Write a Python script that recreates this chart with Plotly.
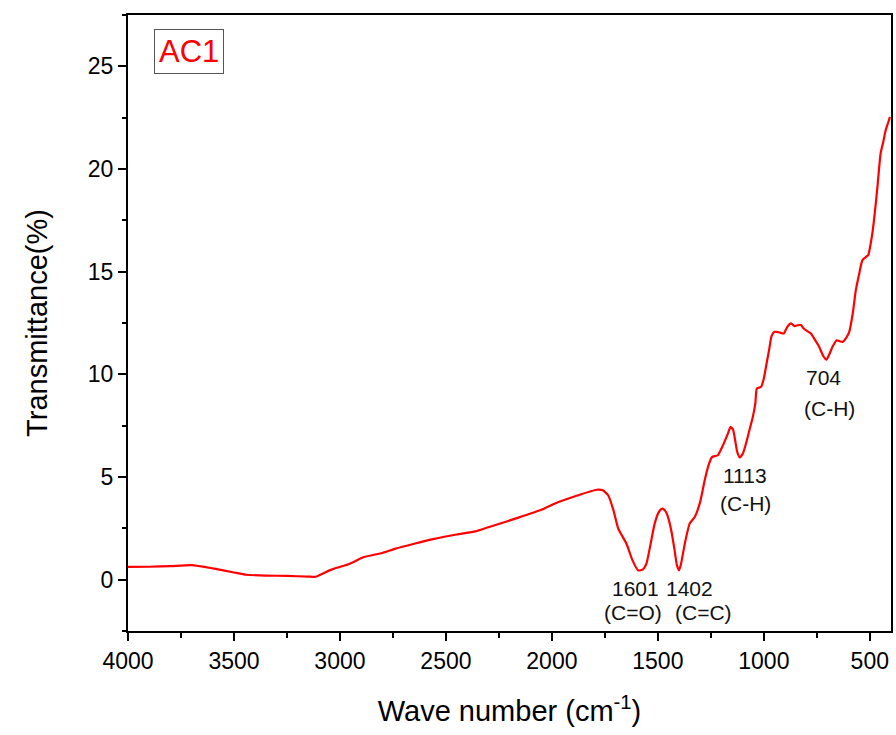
import plotly.graph_objects as go

wavenumber = [4000, 3900, 3800, 3700, 3600, 3500, 3443, 3350, 3250, 3150, 3114, 3080, 3037, 2960,
              2887, 2800, 2738, 2650, 2567, 2450, 2361, 2300, 2158, 2050, 1969, 1880, 1789, 1760,
              1734, 1710, 1687, 1648, 1620, 1593, 1570, 1554, 1535, 1515, 1495, 1480, 1465, 1452,
              1435, 1421, 1410, 1400, 1390, 1373, 1350, 1326, 1300, 1279, 1260, 1245, 1217, 1193,
              1170, 1157, 1145, 1138, 1125, 1113, 1099, 1085, 1068, 1052, 1040, 1033, 1013, 1000,
              990, 975, 964, 950, 930, 906, 890, 872, 855, 840, 825, 812, 795, 778, 760, 739, 720,
              704, 690, 676, 656, 640, 629, 610, 597, 580, 566, 550, 535, 515, 508, 488, 475, 464,
              449, 437, 425, 412, 405]
transmittance = [0.62, 0.63, 0.66, 0.71, 0.55, 0.35, 0.24, 0.2, 0.18, 0.15, 0.14, 0.3, 0.5, 0.75,
                 1.1, 1.3, 1.51, 1.75, 1.96, 2.2, 2.35, 2.55, 3.02, 3.4, 3.78, 4.1, 4.38, 4.35,
                 4.1, 3.4, 2.49, 1.75, 0.95, 0.45, 0.5, 0.78, 1.7, 2.73, 3.3, 3.46, 3.35, 3.05,
                 2.3, 1.43, 0.7, 0.45, 0.8, 1.75, 2.73, 3.05, 3.8, 4.84, 5.6, 5.97, 6.06, 6.54,
                 7.1, 7.44, 7.3, 6.95, 6.2, 5.95, 6.14, 6.6, 7.28, 7.92, 8.6, 9.31, 9.39, 9.8,
                 10.36, 11.2, 11.85, 12.07, 12.05, 11.99, 12.3, 12.48, 12.35, 12.39, 12.4, 12.23, 12.1, 11.99, 11.7, 11.34, 10.9,
                 10.72, 11.0, 11.34, 11.66, 11.6, 11.58, 11.8, 12.07, 13.0, 14.1, 14.9, 15.56, 15.75, 15.8, 16.86, 18.0, 19.13,
                 20.76, 21.3, 21.9, 22.3, 22.54]

# peak annotations: wavenumber label and bond assignment, each placed in data coordinates
peak_numbers = ["1601", "1402", "1113", "704"]
peak_number_x = [1607, 1349, 1090, 719]
peak_number_y = [-0.42, -0.42, 5.08, 9.87]
peak_groups = ["(C=O)", "(C=C)", "(C-H)", "(C-H)"]
peak_group_x = [1617, 1283, 1085, 691]
peak_group_y = [-1.59, -1.59, 3.72, 8.36]

x_ticks = [4000, 3500, 3000, 2500, 2000, 1500, 1000, 500]
y_ticks = [0, 5, 10, 15, 20, 25]

FONT = "Liberation Sans, Arial, sans-serif"

fig = go.Figure()
fig.add_trace(go.Scatter(x=wavenumber, y=transmittance, mode="lines",
                         line=dict(color="#ff0000", width=2.2, shape="spline", smoothing=0.5),
                         showlegend=False))

for t, xx, yy in zip(peak_numbers + peak_groups, peak_number_x + peak_group_x, peak_number_y + peak_group_y):
    fig.add_annotation(x=xx, y=yy, text=t, showarrow=False,
                       font=dict(family=FONT, size=21, color="#111111"),
                       xanchor="center", yanchor="middle")

fig.add_annotation(x=0.0804, y=0.941, xref="paper", yref="paper", text="AC1", showarrow=False,
                   font=dict(family=FONT, size=31, color="#ff0000"),
                   bordercolor="#555555", borderwidth=1, borderpad=4, bgcolor="white",
                   xanchor="center", yanchor="middle")

axis_common = dict(showline=True, linecolor="black", linewidth=2, mirror=True,
                   ticks="outside", tickcolor="black", tickwidth=2, ticklen=8,
                   showgrid=False, zeroline=False,
                   tickfont=dict(family=FONT, size=23, color="black"))

fig.update_xaxes(range=[4000, 400], tickvals=x_ticks,
                 minor=dict(dtick=250, ticks="outside", ticklen=5, tickwidth=2, tickcolor="black"),
                 title=dict(text="Wave number (cm<sup>-1</sup>)", font=dict(family=FONT, size=29, color="black"), standoff=28),
                 **axis_common)
fig.update_yaxes(range=[-2.5, 27.5], tickvals=y_ticks,
                 minor=dict(dtick=2.5, ticks="outside", ticklen=4, tickwidth=2, tickcolor="black"),
                 title=dict(text="Transmittance(%)", font=dict(family=FONT, size=29, color="black"), standoff=32),
                 **axis_common)

fig.update_layout(width=896, height=735, margin=dict(l=128, r=3, t=15, b=104),
                  paper_bgcolor="white", plot_bgcolor="white")

fig.write_html("out.html")
